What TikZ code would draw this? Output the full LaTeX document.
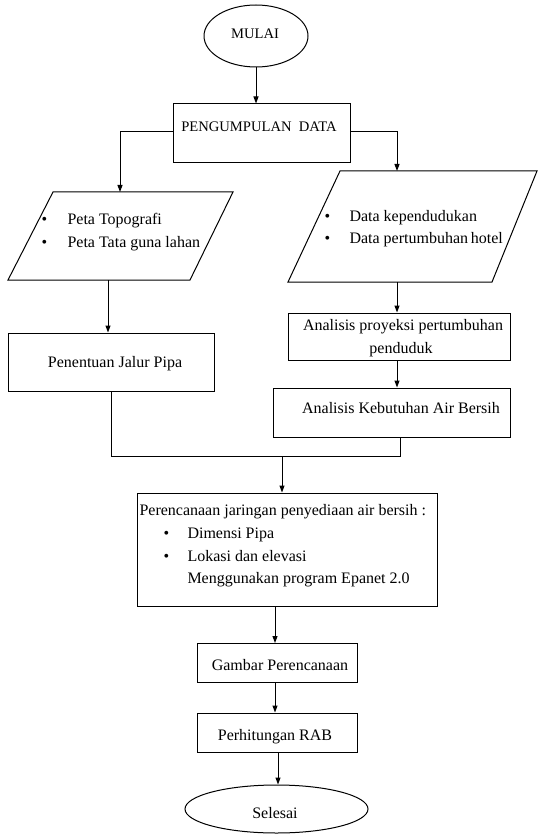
\documentclass[tikz,border=0pt]{standalone}
\usepackage{fontspec}
\setmainfont{Liberation Serif}
\usetikzlibrary{arrows.meta,shapes.geometric}
\begin{document}
\begin{tikzpicture}[x=1pt,y=-1pt,
  line width=1pt,
  font=\fontsize{16}{19}\selectfont,
  arr/.style={-{Triangle[length=7pt,width=5pt]}},
  box/.style={draw,rectangle,inner sep=0pt},
  oval/.style={draw,ellipse,inner sep=0pt},
  txt/.style={inner sep=0pt,anchor=base west},
  ctxt/.style={inner sep=0pt,anchor=base},
  caps/.style={font=\fontsize{14.6}{17}\selectfont}]
\useasboundingbox (0,0) rectangle (538,834);
% start
\node[oval,minimum width=104pt,minimum height=62pt] (mulai) at (256,36) {};
\node[ctxt,caps] (tmulai) at (255,39) {MULAI};
% data collection
\node[box,minimum width=177pt,minimum height=59pt] (kumpul) at (261.5,133.5) {};
\node[ctxt,caps] (tkumpul) at (259,132) {PENGUMPULAN\ \ DATA};
\draw[arr] (mulai.south) -- (mulai.south |- kumpul.north);
% left parallelogram
\draw (53,192) -- (233,192) -- (190,280) -- (8,280) -- cycle;
\coordinate (paraLtop) at (120,192);
\coordinate (paraLbot) at (108,280);
\node[txt] (bL1) at (41,225) {•};
\node[txt] (tL1) at (67,225) {Peta Topografi};
\node[txt] (bL2) at (41,247) {•};
\node[txt] (tL2) at (67,247) {Peta Tata guna lahan};
% right parallelogram
\draw (340,171) -- (537,171) -- (492,282) -- (288,282) -- cycle;
\coordinate (paraRtop) at (397,171);
\coordinate (paraRbot) at (397,282);
\node[txt] (bR1) at (324,222) {•};
\node[txt] (tR1) at (349,222) {Data kependudukan};
\node[txt] (bR2) at (324,243) {•};
\node[txt] (tR2) at (349,243) {Data pertumbuhan\,hotel};
% branches
\draw[arr] (kumpul.west |- 0,132) -| (paraLtop);
\draw[arr] (kumpul.east |- 0,132) -| (paraRtop);
% left column
\node[box,minimum width=206pt,minimum height=58pt] (jalur) at (111,362) {};
\node[ctxt] (tjalur) at (115,367) {Penentuan Jalur Pipa};
\draw[arr] (paraLbot) -- (paraLbot |- jalur.north);
% right column
\node[box,minimum width=222pt,minimum height=47pt] (proyeksi) at (399,336.5) {};
\node[ctxt] (tproy1) at (403,330) {Analisis proyeksi pertumbuhan};
\node[ctxt] (tproy2) at (401,353) {penduduk};
\draw[arr] (paraRbot) -- (paraRbot |- proyeksi.north);
\node[box,minimum width=237pt,minimum height=49pt] (kebutuhan) at (391.5,412.5) {};
\node[ctxt] (tkeb) at (401,413) {Analisis Kebutuhan Air Bersih};
\draw[arr] (paraRbot |- proyeksi.south) -- (paraRbot |- kebutuhan.north);
% merge
\coordinate (mergeL) at (111,456);
\coordinate (mergeR) at (400,456);
\coordinate (mergeM) at (282,456);
\draw (jalur.south -| mergeL) -- (mergeL) -- (mergeR) -- (kebutuhan.south -| mergeR);
% planning
\node[box,minimum width=300pt,minimum height=113pt] (rencana) at (287,549.5) {};
\node[txt] (tr0) at (139,515) {Perencanaan jaringan penyediaan air bersih :};
\node[txt] (br1) at (163,538) {•};
\node[txt] (tr1) at (187,538) {Dimensi Pipa};
\node[txt] (br2) at (163,561) {•};
\node[txt] (tr2) at (187,561) {Lokasi dan elevasi};
\node[txt] (tr3) at (187,583) {Menggunakan program Epanet 2.0};
\draw[arr] (mergeM) -- (mergeM |- rencana.north);
% drawing
\node[box,minimum width=160pt,minimum height=39pt] (gambar) at (277,662.5) {};
\node[ctxt] (tgambar) at (280,670) {Gambar Perencanaan};
\draw[arr] (275,606) -- (275,643);
% cost
\node[box,minimum width=160pt,minimum height=39pt] (rab) at (277,732.5) {};
\node[ctxt] (trab) at (275,740) {Perhitungan RAB};
\draw[arr] (gambar.south -| 275,0) -- (rab.north -| 275,0);
% end
\node[oval,minimum width=183pt,minimum height=48pt] (selesai) at (276.5,809) {};
\node[ctxt] (tselesai) at (275,818) {Selesai};
\draw[arr] (rab.south -| 278,0) -- (selesai.north -| 278,0);
\end{tikzpicture}
\end{document}
